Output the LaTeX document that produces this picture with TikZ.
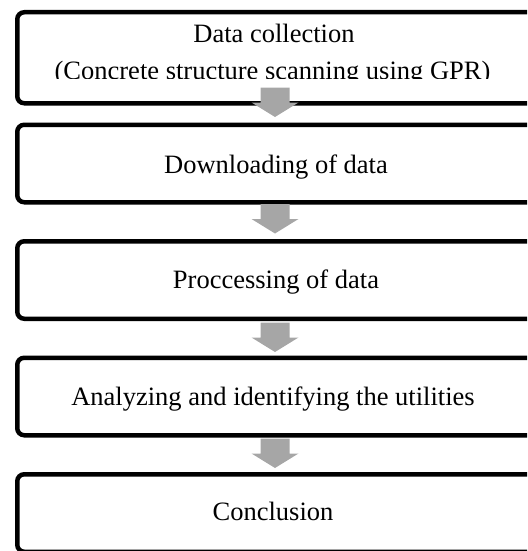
\documentclass[tikz,border=0pt]{standalone}
\usepackage{fontspec}
\setmainfont{Liberation Serif}
\begin{document}
\begin{tikzpicture}[x=1pt,y=-1pt,
  stepbox/.style={draw=black, line width=4.5pt, rounded corners=7pt, inner sep=0pt, anchor=north west},
  label/.style={font=\fontsize{26.5}{30}\selectfont, inner sep=0pt, anchor=base},
  blockarrow/.style={fill=arrowgray, draw=none}]
\definecolor{arrowgray}{HTML}{A6A6A6}
\useasboundingbox (0,0) rectangle (527,551);
\clip (0,0) rectangle (527,551);
% boxes
\node[stepbox, minimum width=600pt, minimum height=91pt]   (b1) at (15,10)    {};
\node[stepbox, minimum width=600pt, minimum height=77.5pt] (b2) at (15,122.5) {};
\node[stepbox, minimum width=600pt, minimum height=77.5pt] (b3) at (15,239)   {};
\node[stepbox, minimum width=600pt, minimum height=77.5pt] (b4) at (15,355.5) {};
\node[stepbox, minimum width=600pt, minimum height=77.5pt] (b5) at (15,472)   {};
% texts
\node[label] (t1) at (274,42.5) {Data collection};
\begin{scope}
  \clip (0,0) rectangle (527,78.5);
  \node[label] (t1b) at (272.5,79) {(Concrete structure scanning using GPR)};
\end{scope}
\node[label] (t2) at (276,173)   {Downloading of data};
\node[label] (t3) at (276,288.5) {Proccessing of data};
\node[label] (t4) at (273,405)   {Analyzing and identifying the utilities};
\node[label] (t5) at (273,520.5) {Conclusion};
% block arrows (tip coordinates)
\coordinate (a1) at (275,117);
\coordinate (a2) at (275,233.5);
\coordinate (a3) at (275,352);
\coordinate (a4) at (275,468);
\foreach \t in {a1,a2,a3,a4}{
  \fill[blockarrow] (\t) -- ++(-23.5,-14.5) -- ++(9,0) -- ++(0,-15) -- ++(29,0) -- ++(0,15) -- ++(9,0) -- cycle;
}
\end{tikzpicture}
\end{document}
